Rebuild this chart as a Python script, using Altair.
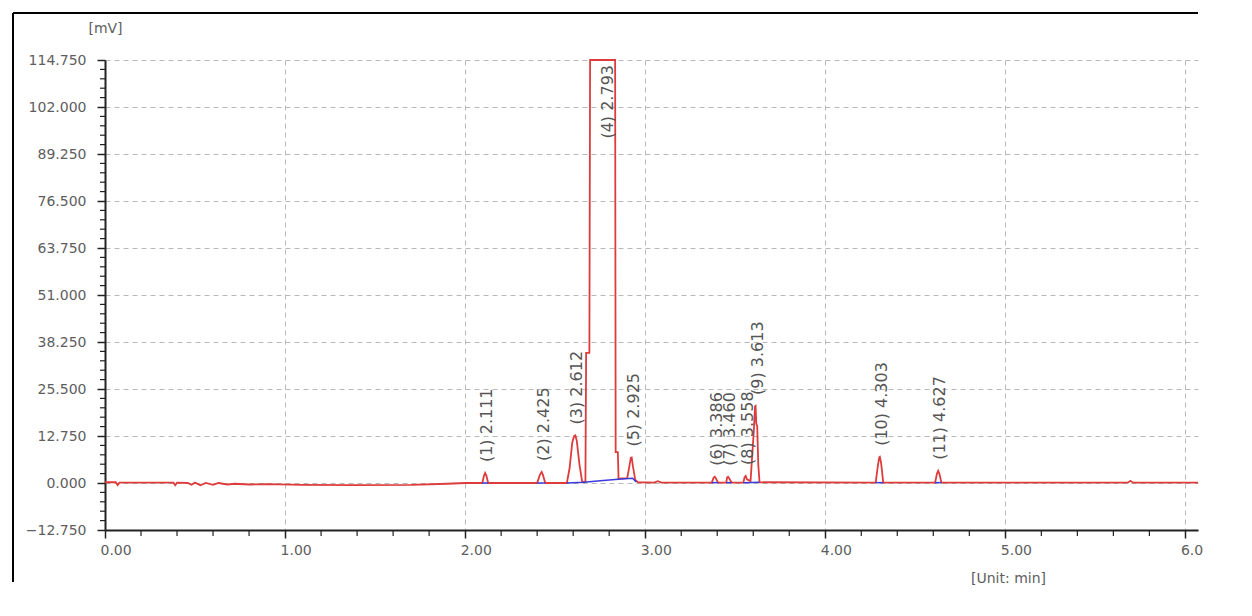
import altair as alt
import pandas as pd
import numpy as np

# ---------------- data ----------------
# red detector trace (time in min, signal in mV); peak 4 is off-scale (clipped at 114.75)
trace_time = [0.00, 0.06, 0.07, 0.08, 0.38, 0.39, 0.40, 0.46, 0.48, 0.50, 0.53, 0.56,
              0.60, 0.63, 0.68, 0.72, 0.80, 0.90, 1.10, 1.40, 1.70, 1.90, 2.00,
              2.095, 2.105, 2.111, 2.118, 2.128,
              2.400, 2.415, 2.425, 2.432, 2.445,
              2.565, 2.580, 2.595, 2.605, 2.612, 2.620, 2.635, 2.650,
              2.668, 2.672, 2.690, 2.694, 2.833, 2.836, 2.848, 2.852,
              2.900, 2.912, 2.920, 2.925, 2.932, 2.945, 2.960,
              3.050, 3.070, 3.090,
              3.370, 3.380, 3.386, 3.393, 3.405,
              3.450, 3.455, 3.460, 3.467, 3.480,
              3.545, 3.552, 3.558, 3.565, 3.585, 3.595, 3.603, 3.610, 3.613, 3.617,
              3.622, 3.628, 3.635,
              4.280, 4.293, 4.300, 4.303, 4.310, 4.322,
              4.610, 4.620, 4.627, 4.634, 4.645,
              5.000, 5.680, 5.695, 5.710, 6.070]
trace_mv = [0.2, 0.2, -0.6, 0.1, 0.1, -0.6, 0.1, 0.0, -0.5, 0.1, -0.6, 0.0,
            -0.5, 0.0, -0.4, -0.2, -0.4, -0.3, -0.5, -0.6, -0.5, -0.2, 0.0,
            0.0, 2.0, 2.7, 2.0, 0.0,
            0.0, 2.2, 3.0, 2.2, 0.0,
            0.0, 4.0, 11.0, 12.7, 12.9, 11.5, 5.0, 0.3,
            0.3, 35.3, 35.3, 114.75, 114.75, 8.4, 8.4, 1.2,
            1.3, 4.5, 6.8, 6.9, 4.5, 0.8, 0.2,
            0.1, 0.5, 0.1,
            0.1, 1.5, 1.7, 1.2, 0.1,
            0.1, 1.5, 1.7, 1.2, 0.1,
            0.1, 1.6, 1.9, 1.0, 0.5, 8.0, 14.0, 20.8, 20.9, 16.0,
            15.5, 5.0, 0.2,
            0.1, 5.0, 7.0, 7.1, 5.5, 0.1,
            0.1, 2.5, 3.3, 2.5, 0.1,
            0.1, 0.1, 0.6, 0.1, 0.1]

# blue integration baselines (segment id, time, mV)
base_seg = [1, 1, 2, 2, 3, 3, 3, 3, 3, 3, 4, 4, 5, 5, 6, 6, 7, 7, 8, 8]
base_time = [2.095, 2.128, 2.400, 2.445, 2.565, 2.660, 2.750, 2.850, 2.930, 2.950,
             3.370, 3.405, 3.450, 3.480, 3.545, 3.635, 4.280, 4.322, 4.610, 4.645]
base_mv = [0.0, 0.0, 0.0, 0.0, 0.0, 0.2, 0.6, 1.0, 1.3, 0.3,
           0.1, 0.1, 0.1, 0.1, 0.1, 0.2, 0.1, 0.1, 0.1, 0.1]

# peak table
peak_no = [1, 2, 3, 4, 5, 6, 7, 8, 9, 10, 11]
peak_time = [2.111, 2.425, 2.612, 2.793, 2.925, 3.386, 3.460, 3.558, 3.613, 4.303, 4.627]
peak_height = [2.7, 3.0, 12.9, 114.75, 6.9, 1.7, 1.7, 1.9, 20.9, 7.1, 3.3]

y_ticks = [-12.75, 0.0, 12.75, 25.5, 38.25, 51.0, 63.75, 76.5, 89.25, 102.0, 114.75]
x_ticks = [0, 1, 2, 3, 4, 5, 6]

Y_MIN, Y_MAX = -12.75, 114.75
X_MIN, X_MAX = 0.0, 6.07

# ---------------- tables ----------------
trace = pd.DataFrame({"t": trace_time, "mv": trace_mv})
base = pd.DataFrame({"seg": base_seg, "t": base_time, "mv": base_mv})
peaks = pd.DataFrame({
    "t": peak_time,
    "h": peak_height,
    "label": [f"({n}) {t:.3f}" for n, t in zip(peak_no, peak_time)],
})
peaks["clipped"] = peaks["h"] >= Y_MAX

y_minor = pd.DataFrame({"v": [v for v in np.arange(Y_MIN, Y_MAX + 0.01, 2.55)
                              if min(abs(v - m) for m in y_ticks) > 0.01]})
x_minor = pd.DataFrame({"v": [v for v in np.arange(0, X_MAX, 0.2)
                              if min(abs(v - m) for m in x_ticks) > 0.01]})

W, H = 1093, 470
FONT = "DejaVu Sans"
GRID = dict(grid=True, gridColor="#b8b8b8", gridDash=[5, 4], gridWidth=1)
AXIS = dict(domainColor="#222222", domainWidth=2, tickColor="#222222", tickWidth=1.5,
            tickSize=8, labelFont=FONT, labelFontSize=14, labelColor="#5e5e5e",
            titleFont=FONT, titleFontSize=14, titleColor="#5e5e5e",
            titleFontWeight="normal")

xscale = alt.Scale(domain=[X_MIN, X_MAX], nice=False, zero=False)
yscale = alt.Scale(domain=[Y_MIN, Y_MAX], nice=False, zero=False)

xaxis = alt.Axis(values=x_ticks,
                 labelExpr="datum.value == 6 ? '6.0' : format(datum.value, '.2f')",
                 labelAlign="left", labelOffset=-5, labelPadding=5, labelFlush=False,
                 labelBaseline="top",
                 title="[Unit: min]", titleX=903, titleY=48, titleAlign="center",
                 titleBaseline="middle", **GRID, **AXIS)
yaxis = alt.Axis(values=y_ticks, format=".3f", labelPadding=11, labelOverlap=False,
                 title="[mV]", titleAngle=0, titleX=0, titleY=-32, titleAlign="center",
                 titleBaseline="middle", **GRID, **AXIS)

red = alt.Chart(trace).mark_line(color="#de3c3c", strokeWidth=1.8).encode(
    x=alt.X("t:Q", scale=xscale, axis=xaxis),
    y=alt.Y("mv:Q", scale=yscale, axis=yaxis),
)

blue = alt.Chart(base).mark_line(color="#3b3bdc", strokeWidth=1.5).encode(
    x=alt.X("t:Q", scale=xscale),
    y=alt.Y("mv:Q", scale=yscale),
    detail="seg:N",
)

labels = alt.Chart(peaks).transform_filter("!datum.clipped").mark_text(
    angle=270, align="left", baseline="middle", dx=11, dy=2,
    font=FONT, fontSize=16, color="#555555",
).encode(
    x=alt.X("t:Q", scale=xscale),
    y=alt.Y("h:Q", scale=yscale),
    text="label:N",
)

label_top = alt.Chart(peaks).transform_filter("datum.clipped").mark_text(
    angle=270, align="right", baseline="middle", dx=-5, dy=0,
    font=FONT, fontSize=16, color="#555555",
).encode(
    x=alt.X("t:Q", scale=xscale),
    y=alt.Y("h:Q", scale=yscale),
    text="label:N",
)

ymin_ticks = alt.Chart(y_minor).mark_rule(color="#222222", strokeWidth=1.2).encode(
    y=alt.Y("v:Q", scale=yscale),
    x=alt.value(-5), x2=alt.value(0),
)
xmin_ticks = alt.Chart(x_minor).mark_rule(color="#222222", strokeWidth=1.2).encode(
    x=alt.X("v:Q", scale=xscale),
    y=alt.value(H), y2=alt.value(H + 6),
)

one = pd.DataFrame({"a": [0]})
frame_top = alt.Chart(one).mark_rule(color="#000000", strokeWidth=2).encode(
    x=alt.value(-92), x2=alt.value(W), y=alt.value(-47))
frame_left = alt.Chart(one).mark_rule(color="#000000", strokeWidth=2).encode(
    x=alt.value(-92), y=alt.value(-47), y2=alt.value(522))

chart = alt.layer(
    red, blue, labels, label_top, ymin_ticks, xmin_ticks, frame_top, frame_left
).properties(
    width=W, height=H,
    autosize=alt.AutoSizeParams(type="none"),
    padding={"left": 97, "top": 52, "right": 20, "bottom": 80},
    background="white",
).configure_view(stroke=None)

chart.save("out.html", embed_options={"renderer": "svg", "actions": False})
